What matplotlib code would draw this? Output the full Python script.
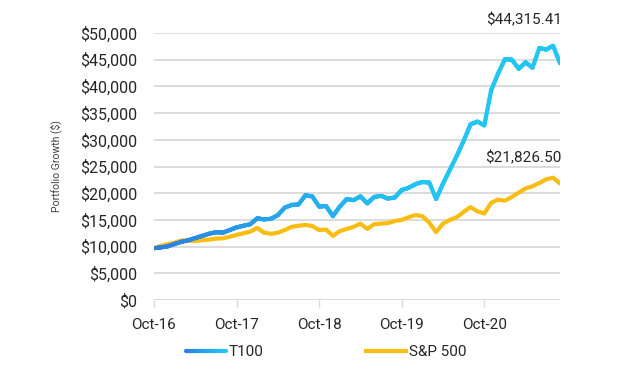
import numpy as np
import matplotlib
matplotlib.use("Agg")
import matplotlib.pyplot as plt
from matplotlib.collections import LineCollection
from matplotlib.legend_handler import HandlerBase
from matplotlib.colors import LinearSegmentedColormap

# ---- data (monthly, Oct-16 .. Sep-21) ----
t100 = [9700, 9850, 10050, 10500, 10900, 11200, 11600, 12000, 12400, 12700,
        12600, 13100, 13600, 13900, 14200, 15300, 15100, 15200, 15900, 17300,
        17800, 17900, 19600, 19400, 17500, 17600, 15700, 17500, 18900, 18700,
        19400, 18100, 19300, 19500, 19000, 19200, 20600, 21000, 21700, 22100,
        22000, 18900, 21800, 24400, 27000, 29800, 32900, 33400, 32700, 39300,
        42400, 45100, 45000, 43300, 44500, 43500, 47200, 46900, 47600, 44315.41]
sp500 = [9700, 10150, 10450, 10750, 11150, 11100, 11050, 11200, 11300, 11500,
         11550, 11850, 12200, 12500, 12800, 13500, 12600, 12400, 12600, 13100,
         13700, 13900, 14050, 13850, 13100, 13200, 12000, 12900, 13300, 13700,
         14300, 13300, 14200, 14300, 14400, 14800, 15000, 15500, 15900, 15700,
         14500, 12700, 14300, 15000, 15500, 16500, 17400, 16600, 16200, 18200,
         18800, 18600, 19300, 20100, 20900, 21300, 21900, 22600, 22900, 21826.50]
series_names = ["T100", "S&P 500"]
xtick_pos = [0, 12, 24, 36, 48]
xtick_labels = ["Oct-16", "Oct-17", "Oct-18", "Oct-19", "Oct-20"]
yticks = list(range(0, 50001, 5000))
end_labels = ["$44,315.41", "$21,826.50"]

plt.rcParams['font.family'] = ['Roboto', 'DejaVu Sans']

BLUE_START = "#2d7ee0"
BLUE_END = "#22c5f3"
YELLOW = "#f9bd12"
cmap = LinearSegmentedColormap.from_list("tb", [BLUE_START, "#27a8ee", BLUE_END, BLUE_END])

fig = plt.figure(figsize=(6.26, 3.88), dpi=100)
ax = fig.add_axes([154/626, 1-300/388, (560-154)/626, (300-33)/388])

x = np.arange(len(t100))
ax.plot(x, sp500, color=YELLOW, lw=3.0, solid_joinstyle='round', solid_capstyle='round', zorder=3)

# gradient T100 line
xs = np.linspace(0, len(t100)-1, 600)
allx = np.unique(np.concatenate([xs, x]))
ally = np.interp(allx, x, t100)
pts = np.array([allx, ally]).T.reshape(-1, 1, 2)
segs = np.concatenate([pts[:-1], pts[1:]], axis=1)
lc = LineCollection(segs, cmap=cmap, linewidth=3.0, capstyle='round', joinstyle='round', zorder=4)
lc.set_array(allx[:-1] / (len(t100)-1))
lc.set_clim(0, 1)
ax.add_collection(lc)

ax.set_xlim(0, len(t100)-1)
ax.set_ylim(0, 50000)
ax.set_yticks(yticks)
ax.set_yticklabels([f"${v:,}" for v in yticks])
ax.set_xticks(xtick_pos)
ax.set_xticklabels(xtick_labels)

for s in ax.spines.values():
    s.set_visible(False)
ax.grid(axis='y', color='#d9d9d9', lw=1.3)
ax.set_axisbelow(True)
ax.tick_params(axis='y', length=0, pad=12, labelsize=11.5, labelcolor='#262626')
ax.tick_params(axis='x', length=5, width=1, color='#d9d9d9', pad=8, labelsize=11, labelcolor='#262626')

ax.set_ylabel("Portfolio Growth ($)", fontsize=7.5, color='#404040')
ax.yaxis.set_label_coords((62-154)/406, 0.5)

# end labels
ax.annotate(end_labels[0], xy=(x[-1], t100[-1]), xytext=(562, 388-20), textcoords='figure pixels',
            ha='right', va='center', fontsize=11, color='#262626', annotation_clip=False)
ax.annotate(end_labels[1], xy=(x[-1], sp500[-1]), xytext=(562, 388-158), textcoords='figure pixels',
            ha='right', va='center', fontsize=11, color='#262626', annotation_clip=False)


class GradientHandler(HandlerBase):
    def create_artists(self, legend, orig_handle, xdescent, ydescent, width, height, fontsize, trans):
        n = 30
        xx = np.linspace(-xdescent, -xdescent + width, n)
        yy = np.full(n, height / 2 - ydescent)
        p = np.array([xx, yy]).T.reshape(-1, 1, 2)
        sg = np.concatenate([p[:-1], p[1:]], axis=1)
        c = LineCollection(sg, cmap=LinearSegmentedColormap.from_list("g", [BLUE_START, BLUE_END]),
                           linewidth=3.0, capstyle='round', transform=trans)
        c.set_array(np.linspace(0, 1, n - 1))
        return [c]


h1 = LineCollection([], linewidth=3)
h2 = plt.Line2D([], [], color=YELLOW, lw=3.0)
leg = fig.legend([h1, h2], series_names, handler_map={LineCollection: GradientHandler()},
                 loc='center', bbox_to_anchor=(326/626, 1-352/388), ncol=2, frameon=False,
                 fontsize=11, handlelength=2.6, handletextpad=0.2, columnspacing=6.7)
for t in leg.get_texts():
    t.set_color('#262626')

fig.savefig("out.png", dpi=100)
